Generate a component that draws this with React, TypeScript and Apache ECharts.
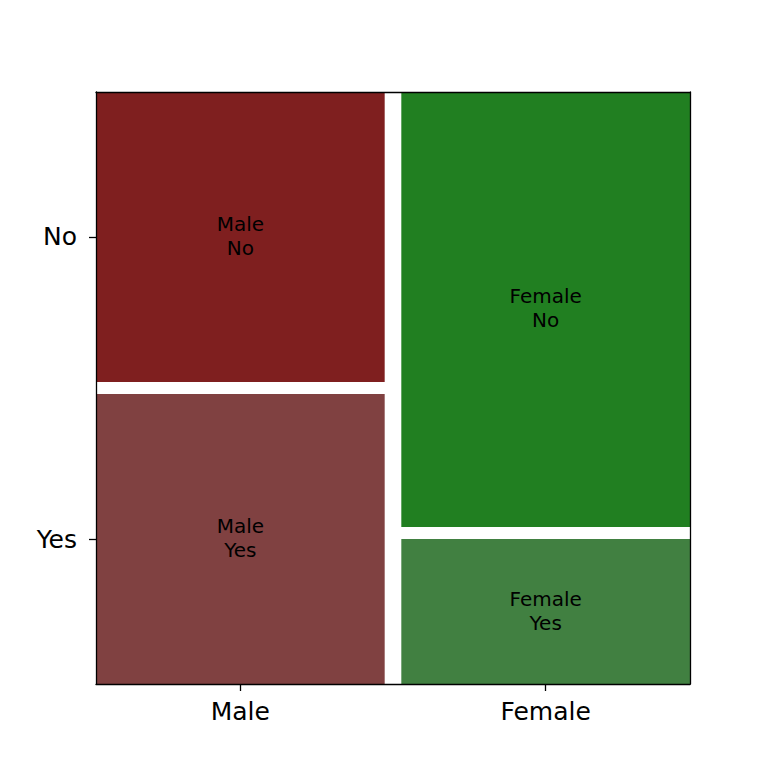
import { useEffect, useRef } from 'react';
import * as echarts from 'echarts';

// categories and counts read from the mosaic
const genders = ['Male', 'Female'];
const answers = ['Yes', 'No']; // bottom to top
const counts = [
  [50, 50], // Male: Yes, No
  [25, 75], // Female: Yes, No
];
const tileColors = [
  ['#804141', '#7f1f1f'],
  ['#418041', '#217f21'],
];

// gaps between tiles, as a share of the axis
const GAP_X = 0.028;
const GAP_Y = 0.0203;

export default function App() {
  const chartRef = useRef<HTMLDivElement>(null);

  useEffect(() => {
    if (!chartRef.current) return;
    document.body.style.margin = '0';
    const chart = echarts.init(chartRef.current, null, { renderer: 'svg' });

    const totals = counts.map(c => c.reduce((a, b) => a + b, 0));
    const grand = totals.reduce((a, b) => a + b, 0);
    const usableX = 1 - GAP_X * (genders.length - 1);

    // build tiles [x0, x1, y0, y1, label, color]
    const tiles: any[] = [];
    const xCenters: number[] = [];
    const yCenters: number[] = [];
    let x = 0;
    genders.forEach((g, gi) => {
      const w = (totals[gi] / grand) * usableX;
      xCenters.push(x + w / 2);
      const usableY = 1 - GAP_Y * (answers.length - 1);
      let y = 0;
      answers.forEach((a, ai) => {
        const h = (counts[gi][ai] / totals[gi]) * usableY;
        tiles.push([x, x + w, y, y + h, `${g}\n${a}`, tileColors[gi][ai]]);
        if (gi === 0) yCenters.push(y + h / 2);
        y += h + GAP_Y;
      });
      x += w + GAP_X;
    });

    const font = 'DejaVu Sans';
    const axisBase = {
      type: 'value' as const,
      min: 0,
      max: 1,
      z: 5,
      splitLine: { show: false },
      axisLine: { show: true, onZero: false, lineStyle: { color: '#000', width: 1.3 } },
    };
    const tickStyle = { show: true, length: 7, lineStyle: { color: '#000', width: 1.3 } };

    chart.setOption({
      animation: false,
      backgroundColor: '#fff',
      grid: { left: 96, right: 78, top: 92, bottom: 84 },
      xAxis: [
        {
          ...axisBase,
          position: 'bottom',
          axisTick: { ...tickStyle, customValues: xCenters },
          axisLabel: {
            customValues: xCenters,
            formatter: (v: number) => genders[xCenters.findIndex(c => Math.abs(c - v) < 1e-6)] ?? '',
            color: '#000',
            fontFamily: font,
            fontSize: 25,
            margin: 15,
          },
        },
        { ...axisBase, position: 'top', axisTick: { show: false }, axisLabel: { show: false } },
      ],
      yAxis: [
        {
          ...axisBase,
          position: 'left',
          axisTick: { ...tickStyle, customValues: yCenters },
          axisLabel: {
            customValues: yCenters,
            formatter: (v: number) => answers[yCenters.findIndex(c => Math.abs(c - v) < 1e-6)] ?? '',
            color: '#000',
            fontFamily: font,
            fontSize: 25,
            margin: 19,
          },
        },
        { ...axisBase, position: 'right', axisTick: { show: false }, axisLabel: { show: false } },
      ],
      series: [
        {
          type: 'custom',
          z: 2,
          silent: true,
          data: tiles,
          renderItem: (params: any, api: any) => {
            const d = tiles[params.dataIndex];
            const p0 = api.coord([d[0], d[3]]);
            const p1 = api.coord([d[1], d[2]]);
            return {
              type: 'group',
              children: [
                {
                  type: 'rect',
                  shape: { x: p0[0], y: p0[1], width: p1[0] - p0[0], height: p1[1] - p0[1] },
                  style: { fill: d[5] },
                },
                {
                  type: 'text',
                  x: (p0[0] + p1[0]) / 2,
                  y: (p0[1] + p1[1]) / 2 - 1,
                  style: {
                    text: d[4],
                    fill: '#000',
                    fontFamily: font,
                    fontSize: 20,
                    align: 'center',
                    verticalAlign: 'middle',
                    lineHeight: 24,
                  },
                },
              ],
            };
          },
        },
      ],
    });

    return () => chart.dispose();
  }, []);

  return <div ref={chartRef} style={{ width: 768, height: 768 }} />;
}
